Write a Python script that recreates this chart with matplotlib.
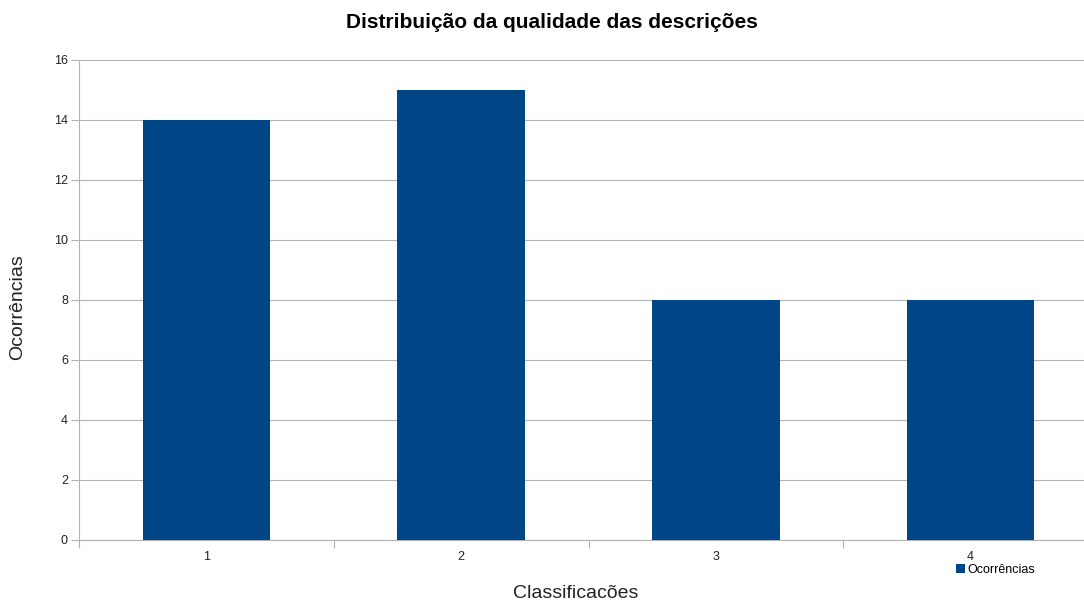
import numpy as np
import matplotlib.pyplot as plt

plt.rcParams['font.family'] = ['Liberation Sans', 'DejaVu Sans']

categories = ['1', '2', '3', '4']
ocorrencias = [14, 15, 8, 8]
y_ticks = [0, 2, 4, 6, 8, 10, 12, 14, 16]

bar_color = '#004586'
grid_color = '#b3b3b3'

fig = plt.figure(figsize=(10.84, 6), dpi=100)
ax = fig.add_axes([79 / 1084, 0.1, (1098 - 79) / 1084, 0.8])

x = np.arange(len(categories))
ax.bar(x, ocorrencias, width=0.5, color=bar_color, label='Ocorrências', zorder=3)

ax.set_xlim(-0.5, len(categories) - 0.5)
ax.set_ylim(0, 16)
ax.set_yticks(y_ticks)
ax.set_xticks(x)
ax.set_xticklabels(categories)
ax.set_xticks(np.arange(len(categories) + 1) - 0.5, minor=True)

ax.yaxis.grid(True, color=grid_color, linewidth=0.8, zorder=0)
for side in ['top', 'right']:
    ax.spines[side].set_visible(False)
for side in ['left', 'bottom']:
    ax.spines[side].set_color(grid_color)
    ax.spines[side].set_linewidth(0.8)

ax.tick_params(axis='y', colors=grid_color, labelcolor='#222222', labelsize=9, length=6, width=0.8, pad=2)
ax.tick_params(axis='x', which='major', length=0, labelsize=9, labelcolor='#222222', pad=8)
ax.tick_params(axis='x', which='minor', colors=grid_color, length=6, width=0.8)

fig.text(552 / 1084, 1 - 23 / 600, 'Distribuição da qualidade das descrições',
         fontsize=15, fontweight='bold', ha='center', va='center')
fig.text(18 / 1084, 1 - 307 / 600, 'Ocorrências', fontsize=14, rotation=90,
         ha='center', va='center', color='#222222')
fig.text(576 / 1084, 1 - 593 / 600, 'Classificacões', fontsize=14, ha='center', va='center', color='#222222')

fig.legend(loc='center left', bbox_to_anchor=(950 / 1084, 1 - 570 / 600), frameon=False,
           fontsize=9, handlelength=0.7, handleheight=0.7, handletextpad=0.2, borderpad=0)

fig.savefig('out.png', dpi=100)
